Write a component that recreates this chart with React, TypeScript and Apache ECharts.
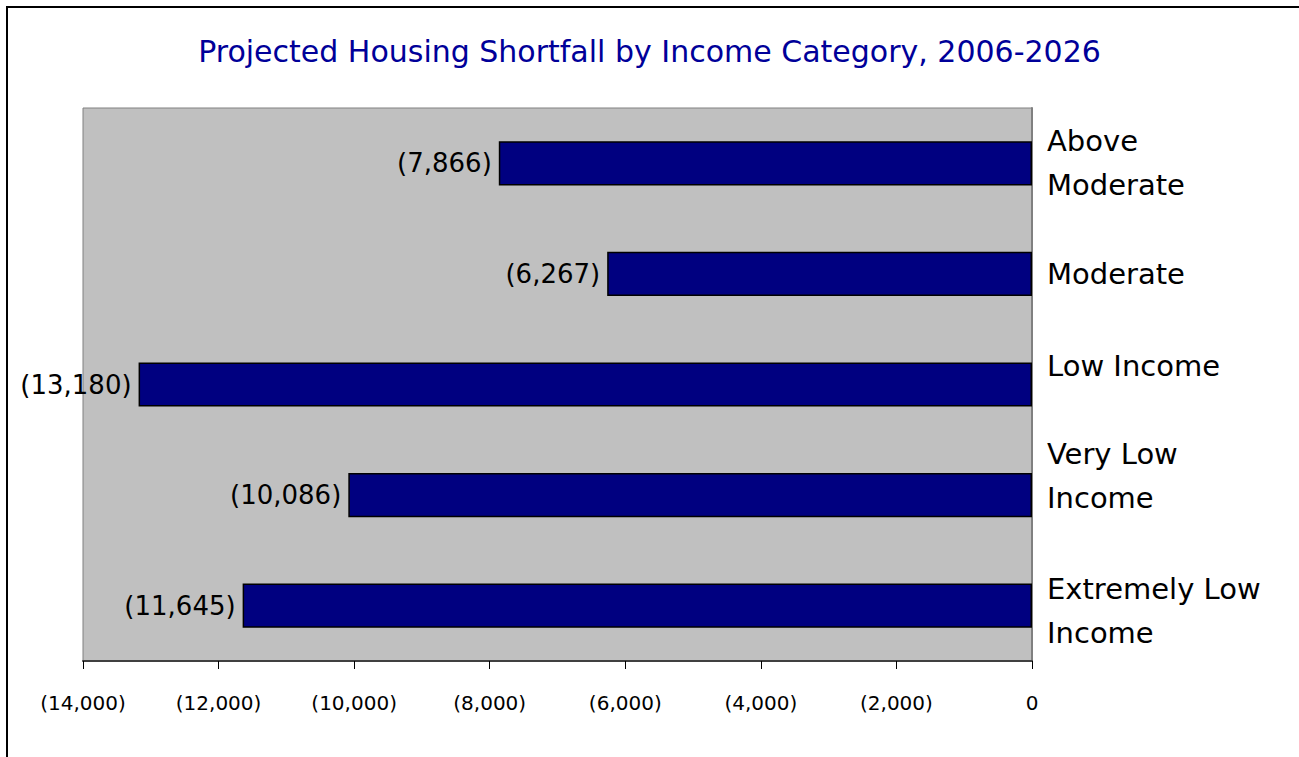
import React, { useEffect, useRef } from "react";
import * as echarts from "echarts";

const categories = ["Above\nModerate", "Moderate", "Low Income", "Very Low\nIncome", "Extremely Low\nIncome"];
const values = [-7866, -6267, -13180, -10086, -11645];
const titleText = "Projected Housing Shortfall by Income Category, 2006-2026";

const FONT = "DejaVu Sans";

const fmtNeg = (v: number) => (v === 0 ? "0" : `(${Math.abs(v).toLocaleString("en-US")})`);

const labelFormat = (val: string) => {
  const lines = val.split("\n").map((l) => `{a|${l}}`);
  if (val === "Low Income") return [...lines, "{sp| }"].join("\n");
  if (val === "Very Low\nIncome") return [...lines, "{sp| }"].join("\n");
  if (val === "Extremely Low\nIncome") return ["{sp2| }", ...lines].join("\n");
  return lines.join("\n");
};

export default function App() {
  const ref = useRef<HTMLDivElement>(null);
  useEffect(() => {
    document.body.style.margin = "0";
    const chart = echarts.init(ref.current!, null, { renderer: "svg" });
    chart.setOption({
      animation: false,
      backgroundColor: "#ffffff",
      title: {
        text: titleText,
        left: "center",
        top: 31,
        textStyle: { fontFamily: FONT, fontSize: 30, fontWeight: "normal", color: "#000099" },
      },
      graphic: [
        {
          type: "rect",
          shape: { x: 7, y: 7, width: 1400, height: 900 },
          style: { fill: "none", stroke: "#000", lineWidth: 2 },
          silent: true,
        },
      ],
      grid: {
        left: 83,
        top: 108,
        right: 267,
        bottom: 96,
        show: true,
        backgroundColor: "#C0C0C0",
        borderColor: "#808080",
        borderWidth: 1,
      },
      xAxis: {
        type: "value",
        min: -14000,
        max: 0,
        interval: 2000,
        splitLine: { show: false },
        axisLine: { show: true, lineStyle: { color: "#404040", width: 2 } },
        axisTick: { show: true, length: 8, lineStyle: { color: "#000", width: 1 } },
        axisLabel: {
          margin: 32,
          fontFamily: FONT,
          fontSize: 20,
          color: "#000",
          formatter: fmtNeg,
        },
      },
      yAxis: {
        type: "category",
        data: categories,
        inverse: true,
        position: "right",
        axisLine: { show: true, lineStyle: { color: "#808080", width: 2 } },
        axisTick: { show: false },
        splitLine: { show: false },
        axisLabel: {
          margin: 15,
          align: "left",
          formatter: labelFormat,
          rich: {
            a: { fontFamily: FONT, fontSize: 29, lineHeight: 44, color: "#000" },
            sp: { fontSize: 10, lineHeight: 38 },
            sp2: { fontSize: 6, lineHeight: 10 },
          },
        },
      },
      series: [
        {
          type: "bar",
          data: values,
          barWidth: "40%",
          itemStyle: { color: "#000080", borderColor: "#000", borderWidth: 1.5 },
          label: {
            show: true,
            position: "left",
            distance: 7,
            fontFamily: FONT,
            fontSize: 26,
            color: "#000",
            formatter: (p: any) => fmtNeg(p.value),
          },
        },
      ],
    });
    return () => chart.dispose();
  }, []);
  return <div ref={ref} style={{ width: 1299, height: 757 }} />;
}
